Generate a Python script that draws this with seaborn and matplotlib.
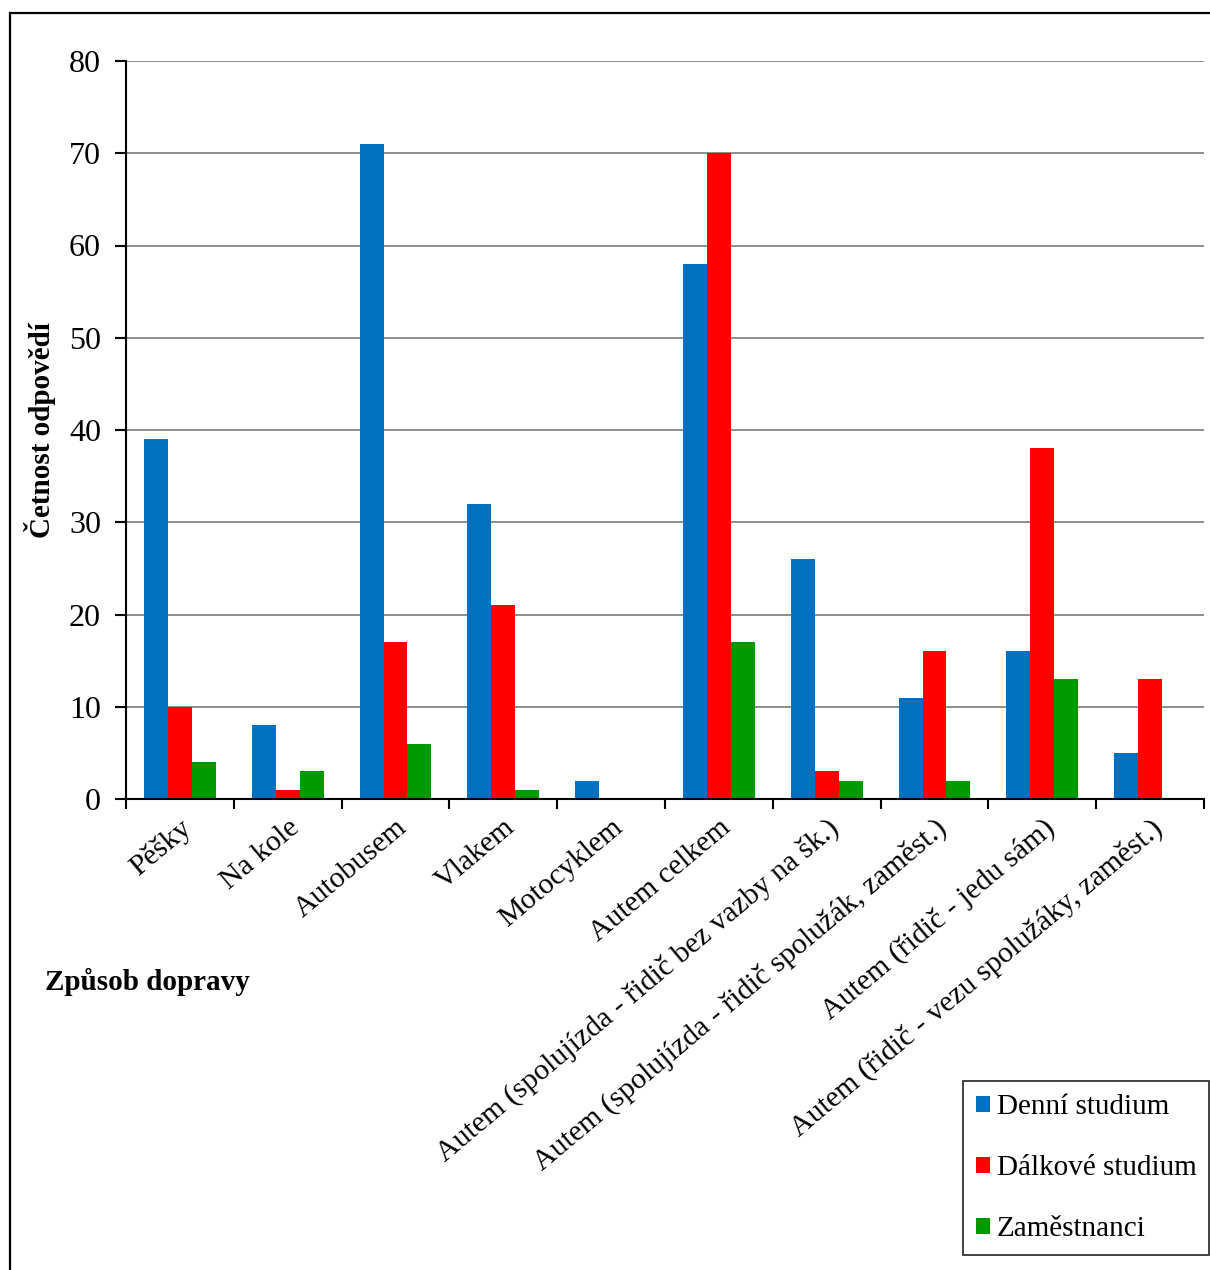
import matplotlib
matplotlib.use("Agg")
import matplotlib.pyplot as plt
from matplotlib.patches import Patch, Rectangle
from matplotlib.ticker import FixedLocator
import numpy as np
import pandas as pd
import seaborn as sns

categories = [
    "Pěšky",
    "Na kole",
    "Autobusem",
    "Vlakem",
    "Motocyklem",
    "Autem celkem",
    "Autem (spolujízda - řidič bez vazby na šk.)",
    "Autem (spolujízda - řidič spolužák, zaměst.)",
    "Autem (řidič - jedu sám)",
    "Autem (řidič - vezu spolužáky, zaměst.)",
]
series_names = ["Denní studium", "Dálkové studium", "Zaměstnanci"]
denni = [39, 8, 71, 32, 2, 58, 26, 11, 16, 5]
dalkove = [10, 1, 17, 21, 0, 70, 3, 16, 38, 13]
zamestnanci = [4, 3, 6, 1, 0, 17, 2, 2, 13, 0]
y_ticks = [0, 10, 20, 30, 40, 50, 60, 70, 80]
colors = ["#0070C0", "#FF0000", "#009900"]

sns.set_theme(style="white")
plt.rcParams["font.family"] = ["Liberation Serif", "DejaVu Serif"]
plt.rcParams["text.color"] = "black"
plt.rcParams["axes.labelcolor"] = "black"
plt.rcParams["xtick.color"] = "black"
plt.rcParams["ytick.color"] = "black"

df = pd.DataFrame({
    "kategorie": categories * 3,
    "skupina": [s for s in series_names for _ in categories],
    "hodnota": denni + dalkove + zamestnanci,
})

W, H = 1210, 1270
fig = plt.figure(figsize=(W / 100, H / 100), dpi=100)
ax = fig.add_axes([126 / W, 1 - 799 / H, (1204 - 126) / W, (799 - 61) / H])

sns.barplot(data=df, x="kategorie", y="hodnota", hue="skupina",
            order=categories, hue_order=series_names, palette=colors,
            width=2 / 3, gap=0, saturation=1, linewidth=0,
            errorbar=None, legend=False, ax=ax)

n = len(categories)
ax.set_xlim(-0.5, n - 0.5)
ax.set_ylim(0, 80)
ax.set_yticks(y_ticks)
ax.set_yticklabels([str(v) for v in y_ticks], fontsize=23)
ax.yaxis.grid(True, color="#8c8c8c", linewidth=1.4)
ax.set_axisbelow(True)

# category labels at group centres, tick marks at group boundaries
ax.set_xticks(range(n))
ax.set_xticklabels(categories, rotation=40, ha="right", va="top",
                   rotation_mode="anchor", fontsize=21.5)
ax.tick_params(axis="x", which="major", length=0, pad=11)
ax.xaxis.set_minor_locator(FixedLocator(np.arange(-0.5, n, 1.0)))
ax.tick_params(axis="x", which="minor", length=7, width=1.5, color="black",
               direction="out", bottom=True)
ax.tick_params(axis="y", length=8, width=1.5, color="black",
               direction="out", left=True, pad=10)

for side in ["top", "right"]:
    ax.spines[side].set_visible(False)
for side in ["left", "bottom"]:
    ax.spines[side].set_color("black")
    ax.spines[side].set_linewidth(1.5)

ax.set_xlabel("")
ax.set_ylabel("Četnost odpovědí", fontsize=21, fontweight="bold")
ax.yaxis.set_label_coords((56 - 126) / (1204 - 126), 0.5)

fig.text(45 / W, 1 - 982 / H, "Způsob dopravy", fontsize=21,
         fontweight="bold", ha="left", va="center")

handles = [Patch(facecolor=c, edgecolor="none") for c in colors]
leg = fig.legend(handles, series_names, loc="upper left",
                 bbox_to_anchor=(963 / W, 1 - 1081 / H), fontsize=21,
                 frameon=True, fancybox=False, edgecolor="black",
                 handlelength=0.48, handleheight=0.48, handletextpad=0.22,
                 labelspacing=1.2, borderpad=0.45, borderaxespad=0)
leg.get_frame().set_linewidth(1.3)

# outer chart frame
fig.patches.append(Rectangle((10 / W, -0.1), 1.2, 1 - 13 / H + 0.1,
                             transform=fig.transFigure, fill=False,
                             edgecolor="black", linewidth=1.6))

fig.savefig("out.png", dpi=100)
